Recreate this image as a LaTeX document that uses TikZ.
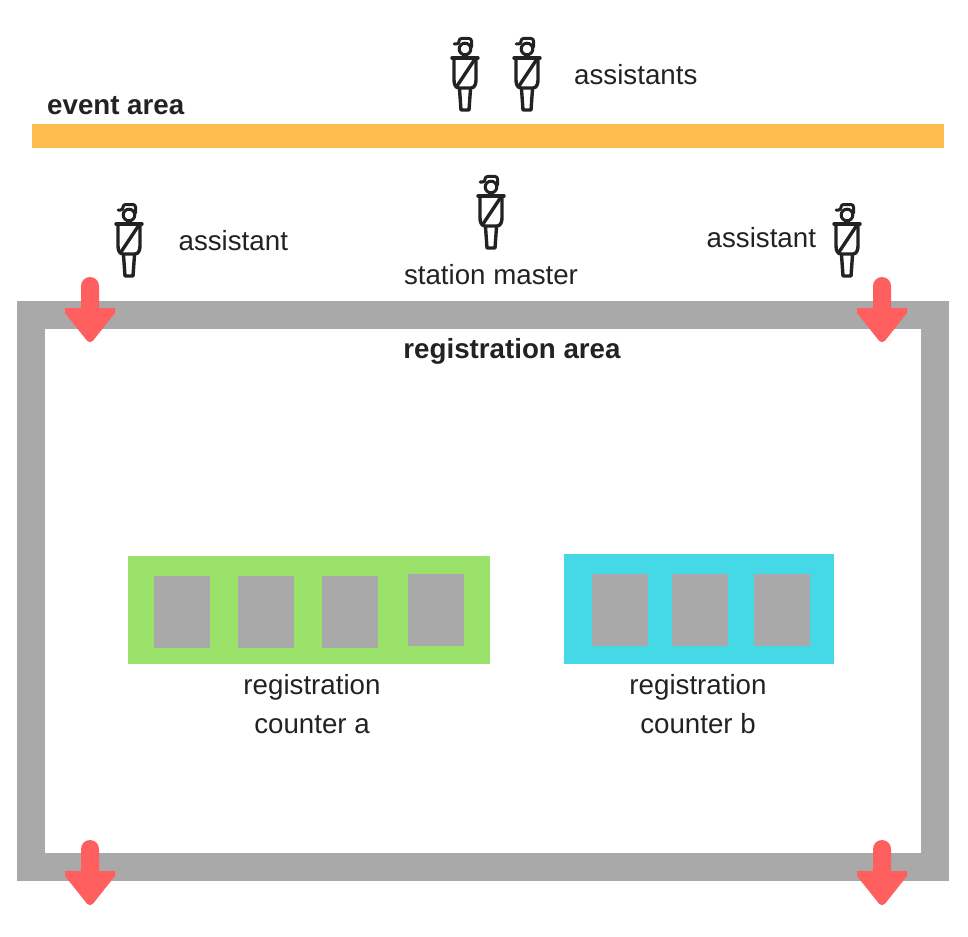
\documentclass[tikz,border=0pt]{standalone}
\usepackage{fontspec}
\setmainfont{Liberation Sans}
\usepackage{xcolor}
\definecolor{framegray}{HTML}{A9A9A9}
\definecolor{barorange}{HTML}{FFBD4F}
\definecolor{countergreen}{HTML}{9AE26A}
\definecolor{counterblue}{HTML}{45D9E8}
\definecolor{arrowred}{HTML}{FF5F5F}
\definecolor{inkblack}{HTML}{222222}
\tikzset{
    label/.style={font=\fontsize{27.7}{39}\selectfont, text=inkblack, inner sep=0pt},
    boldlabel/.style={label, font=\fontsize{27.7}{39}\selectfont\bfseries},
    slot/.style={fill=framegray, draw=none},
    person/.pic={
        \draw[inkblack, line width=3.4, line cap=round, line join=round] (-13,0) to (13,0);
        \draw[inkblack, line width=3.4, line join=round] (-11,0) -- (-11,22) to[out=-90,in=180] (-6,30) -- (6,30) to[out=0,in=-90] (11,22) -- (11,0);
        \draw[inkblack, line width=3.4, line cap=round] (10,1) to (-8,28);
        \draw[inkblack, line width=3.4, line join=round] (-5.5,31) -- (-4,52) -- (4,52) -- (5.5,31);
        \draw[inkblack, line width=3] (0,-9) circle (5.8);
        \draw[inkblack, line width=3, line cap=round, line join=round, rounded corners=2.5] (-11,-14) -- (-6,-14) -- (-6,-19.5) -- (6.5,-19.5) -- (6.5,-11);
    },
    downarrow/.pic={
        \fill[arrowred] (-9,9) arc (180:360:9) -- (9,31) -- (25,31) -- (25,36) [rounded corners=5] -- (0,67.5) [sharp corners] -- (-25,36) -- (-25,31) -- (-9,31) -- cycle;
    }
}
\begin{document}
\begin{tikzpicture}[x=1pt, y=-1pt]
    \useasboundingbox (0,0) rectangle (968,936);
    % bar
    \fill[barorange] (32,124) rectangle (944,148);
    \node[boldlabel, anchor=base west] (eventlabel) at (47,114.5) {event area};
    % frame
    \draw[framegray, line width=28, line join=miter] (31,315) rectangle (935,867);
    % counters
    \fill[countergreen] (128,556) rectangle (490,664);
    \fill[counterblue] (564,554) rectangle (834,664);
    \foreach \px/\py in {154/576, 238/576, 322/576, 408/574, 592/574, 672/574, 754/574}
        \fill[slot] (\px,\py) rectangle (\px+56,\py+72);
    % people
    \foreach \px/\py in {465/58, 527/58, 129/224, 491/196, 847/224}
        \pic at (\px,\py) {person};
    % arrows
    \foreach \px/\py in {90/277, 882/277, 90/840, 882/840}
        \pic at (\px,\py) {downarrow};
    % labels
    \node[label, anchor=base west] (assistantstop) at (574,85) {assistants};
    \node[label, anchor=base] (assistantleft) at (233.3,250) {assistant};
    \node[label, anchor=base] (assistantright) at (761.3,247.5) {assistant};
    \node[label, anchor=base] (stationmaster) at (491,284) {station master};
    \node[boldlabel, anchor=base] (regarea) at (512,358) {registration area};
    \node[label, align=center] (countera) at (312,704) {registration\\counter a};
    \node[label, align=center] (counterb) at (698,704) {registration\\counter b};
\end{tikzpicture}
\end{document}
